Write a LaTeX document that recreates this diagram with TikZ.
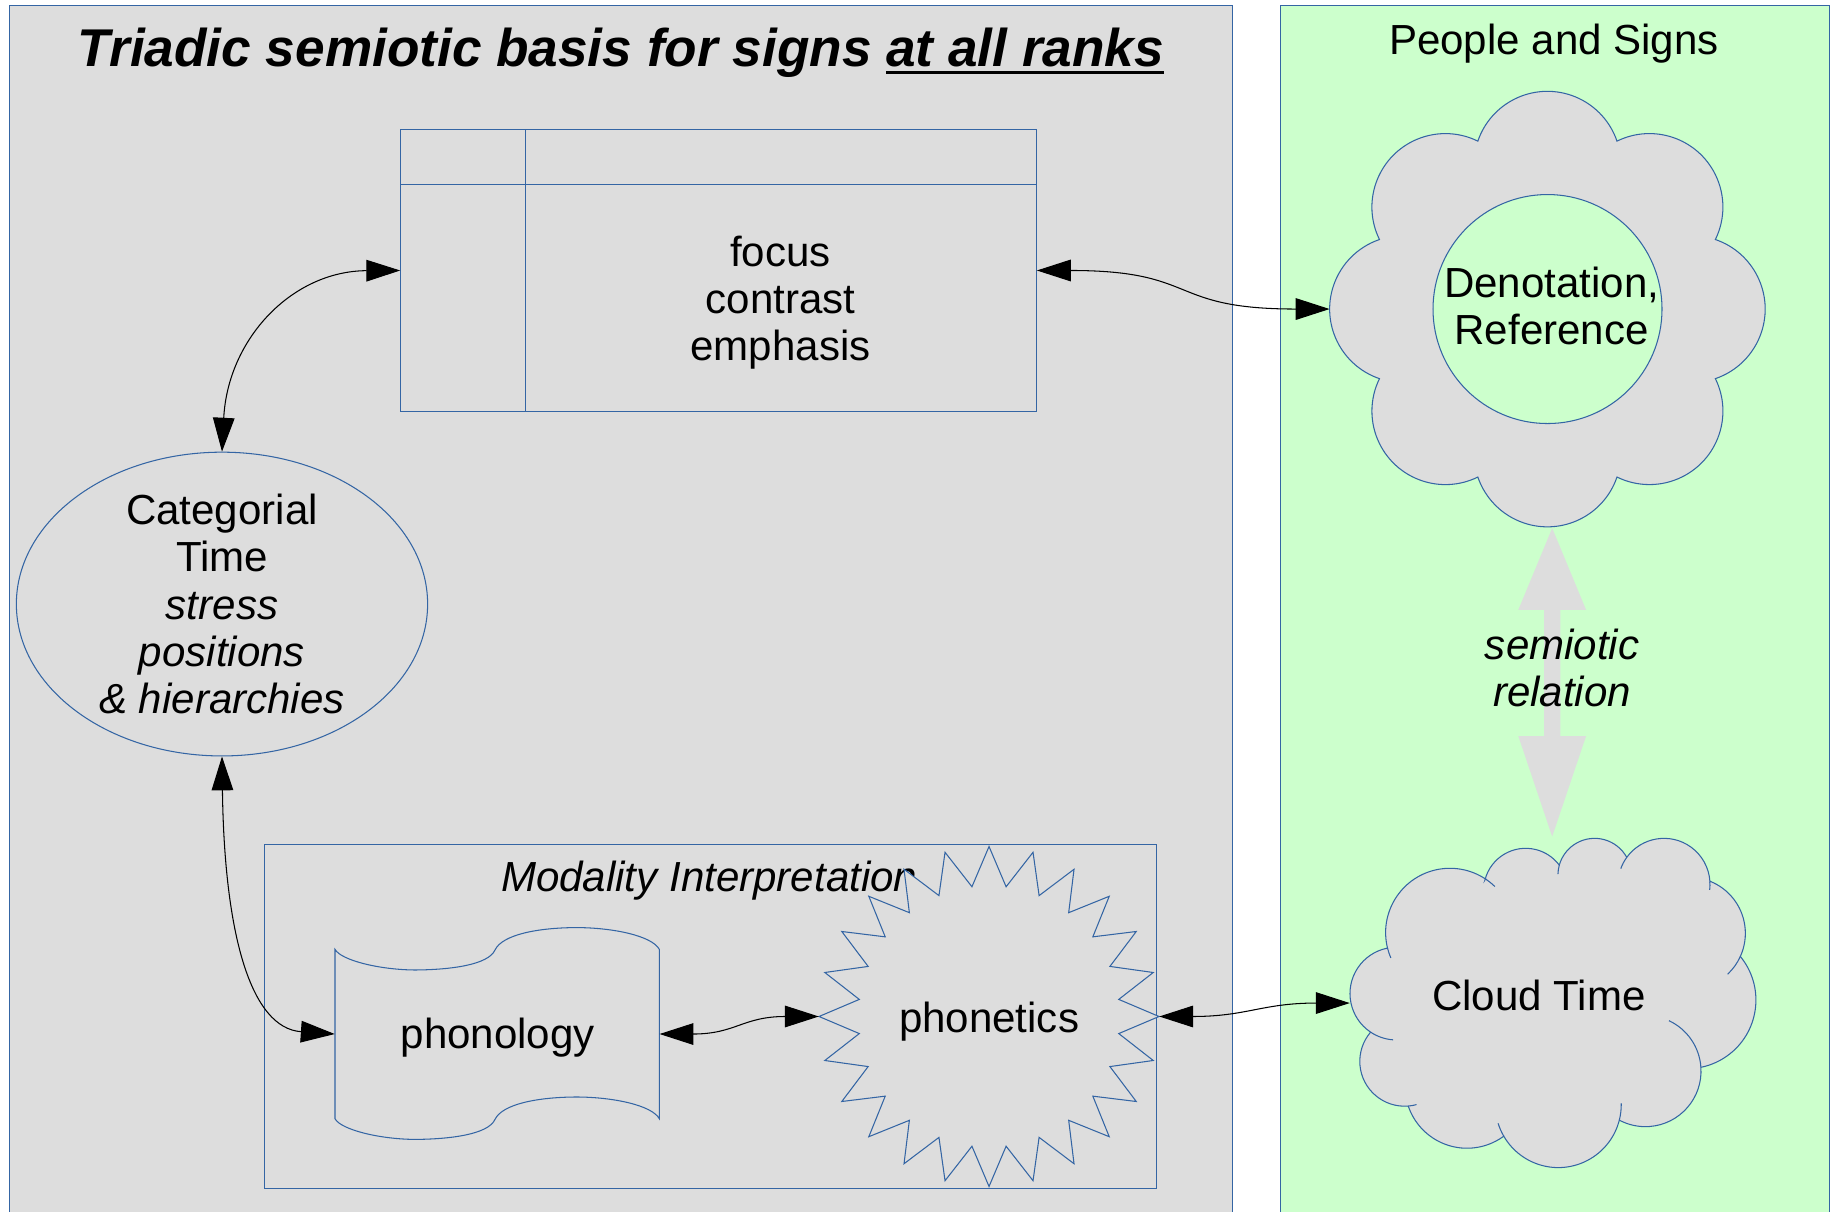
\documentclass[tikz,border=0pt]{standalone}
\usepackage{fontspec}
\setmainfont{Liberation Sans}
\usetikzlibrary{arrows.meta,calc,shapes.geometric}
\definecolor{lgray}{HTML}{DDDDDD}
\definecolor{lgreen}{HTML}{CCFFCC}
\definecolor{lblue}{HTML}{3465A4}
\newcommand\ulbox[1]{\setbox0=\hbox{#1}\rlap{\rule[-6.5pt]{\wd0}{2.5pt}}\box0}
\begin{document}
\begin{tikzpicture}[x=1pt,y=-1pt,
  outline/.style={draw=lblue, line width=0.9pt},
  conn/.style={draw=black, line width=0.9pt, >={Triangle[length=29pt,width=18.5pt]}, <->},
  txt/.style={font=\fontsize{36}{40.5}\selectfont, align=center, inner sep=0pt},
  itxt/.style={font=\fontsize{36}{40.5}\selectfont\itshape, align=center, inner sep=0pt},
]
\useasboundingbox[fill=white] (0,0) rectangle (1568,1037);

% panels
\path[outline, fill=lgray] (8,5) rectangle (1055,1050);
\path[outline, fill=lgreen] (1096,5) rectangle (1566,1050);

% titles
\node[anchor=base, inner sep=0pt, font=\fontsize{45.5}{50}\selectfont\bfseries\itshape] (title) at (531.5,57) {Triadic semiotic basis for signs \ulbox{at all ranks}};
\node[txt] (people) at (1330,37) {People and Signs};

% focus box
\node[outline, fill=lgray, minimum width=544pt, minimum height=241pt, inner sep=0pt] (fbox) at (615,231.5) {};
\draw[outline] (343,158) -- (887,158);
\draw[outline] (450,111) -- (450,352);
\node[txt] (ftext) at (668,259) {focus\\contrast\\emphasis};

% categorial ellipse
\node[ellipse, outline, minimum width=352pt, minimum height=260pt, inner sep=0pt] (cat) at (190,517) {};
\node[txt] (cattext) at (190,517) {Categorial\\Time\\\textit{stress}\\\textit{positions}\\\textit{\& hierarchies}};

% modality box
\node[outline, minimum width=764pt, minimum height=294pt, inner sep=0pt] (modal) at (608,870) {};
\node[itxt] (modlabel) at (607,754) {Modality Interpretation};

% phonology (punched tape)
\path[outline, fill=lgray] (286.7,812.5) .. controls (292,822) and (325,830) .. (355.2,830.2)
  .. controls (385,830) and (418,826) .. (423.7,813)
  .. controls (430,800) and (460,794) .. (493.6,793.9)
  .. controls (525,794) and (558,801) .. (564.3,812.5)
  -- (564.3,957.5)
  .. controls (558,946) and (525,939) .. (493.6,938.9)
  .. controls (460,939) and (430,945) .. (423.7,958)
  .. controls (418,971) and (385,975) .. (355.2,975.2)
  .. controls (325,975) and (292,967) .. (286.7,957.5) -- cycle;
\node[minimum width=277.6pt, minimum height=145pt, inner sep=0pt] (phon) at (425.5,885) {};
\node[txt] (phontext) at (426,888) {phonology};

% phonetics (starburst)
\path[outline, fill=lgray] plot[samples at={0,7.5,...,352.5}] ({846.5+(128.75+16.75*cos(24*\x))*cos(\x)}, {870+(128.75+16.75*cos(24*\x))*sin(\x)}) -- cycle;
\node[circle, minimum size=291pt, inner sep=0pt] (phonet) at (846.5,870) {};
\node[txt] (phonettext) at (846.5,874) {phonetics};

% semiotic relation block arrow
\path[fill=lgray] (1328.5,452) -- (1357.5,522) -- (1335.5,522) -- (1335.5,630) -- (1357.5,630) -- (1328.5,716) -- (1299.5,630) -- (1321.5,630) -- (1321.5,522) -- (1299.5,522) -- cycle;

% flower
\node[circle, minimum size=372.6pt, inner sep=0pt] (flower) at (1324.5,264.5) {};
\path[outline, fill=lgray] ($(flower.center)+(-22.5:155.5)$)
  arc[start angle=-71.2, end angle=71.2, radius=62.9]
  arc[start angle=-26.2, end angle=116.2, radius=62.9]
  arc[start angle=18.8, end angle=161.2, radius=62.9]
  arc[start angle=63.8, end angle=206.2, radius=62.9]
  arc[start angle=108.8, end angle=251.2, radius=62.9]
  arc[start angle=153.8, end angle=296.2, radius=62.9]
  arc[start angle=198.8, end angle=341.2, radius=62.9]
  arc[start angle=243.8, end angle=386.2, radius=62.9] -- cycle;
\node[circle, outline, fill=lgreen, minimum size=196pt, inner sep=0pt] (den) at (1324.5,264.5) {};
\node[txt] (dentext) at (1328,262) {Denotation,\\Reference};

\node[itxt] (semtext) at (1337,571.5) {semiotic\\relation};

% cloud
\node[ellipse, minimum width=347.5pt, minimum height=282pt, inner sep=0pt] (cloud) at (1329.2,858.5) {};
\path[outline, fill=lgray] ($(1241.0,798.2)+(166.1:55.06)$) arc[start angle=166.1, end angle=303.6, radius=55.06]
 -- ($(1305.8,762.0)+(194.3:35.95)$) arc[start angle=194.3, end angle=323.0, radius=35.95]
 -- ($(1364.8,748.9)+(195.8:31.38)$) arc[start angle=195.8, end angle=331.1, radius=31.38]
 -- ($(1424.2,756.9)+(215.9:39.37)$) arc[start angle=215.9, end angle=356.7, radius=39.37]
 -- ($(1445.9,798.8)+(-68.2:47.93)$) arc[start angle=-68.2, end angle=24.4, radius=47.93]
 -- ($(1444.1,855.9)+(-39.1:58.77)$) arc[start angle=-39.1, end angle=78.5, radius=58.77]
 -- ($(1408.3,916.7)+(-3.9:47.59)$) arc[start angle=-3.9, end angle=118.5, radius=47.59]
 -- ($(1333.7,945.4)+(14.2:53.92)$) arc[start angle=14.2, end angle=149.8, radius=53.92]
 -- ($(1255.6,929.7)+(54.2:53.06)$) arc[start angle=54.2, end angle=161.5, radius=53.06]
 -- ($(1202.2,908.4)+(85.3:38.37)$) arc[start angle=85.3, end angle=220.5, radius=38.37]
 -- ($(1195.1,850.4)+(123.6:39.66)$) arc[start angle=123.6, end angle=258.0, radius=39.66]
 -- cycle;
% inner stubs of the cloud outline
\draw[outline] ($(1241.0,798.2)+(303.6:55.06)$) arc[start angle=303.6, end angle=314.3, radius=55.06];
\draw[outline] ($(1241.0,798.2)+(156.8:55.06)$) arc[start angle=156.8, end angle=166.1, radius=55.06];
\draw[outline] ($(1364.8,748.9)+(181.5:31.38)$) arc[start angle=181.5, end angle=195.8, radius=31.38];
\draw[outline] ($(1424.2,756.9)+(200:39.37)$) arc[start angle=200, end angle=215.9, radius=39.37];
\draw[outline] ($(1424.2,756.9)+(356.7:39.37)$) arc[start angle=356.7, end angle=366.9, radius=39.37];
\draw[outline] ($(1445.9,798.8)+(24.4:47.93)$) arc[start angle=24.4, end angle=46.9, radius=47.93];
\draw[outline] ($(1408.3,916.7)+(-65:47.59)$) arc[start angle=-65, end angle=-3.9, radius=47.59];
\draw[outline] ($(1333.7,945.4)+(-1.2:53.92)$) arc[start angle=-1.2, end angle=14.2, radius=53.92];
\draw[outline] ($(1333.7,945.4)+(149.8:53.92)$) arc[start angle=149.8, end angle=162.7, radius=53.92];
\draw[outline] ($(1202.2,908.4)+(74.6:38.37)$) arc[start angle=74.6, end angle=85.3, radius=38.37];
\draw[outline] ($(1195.1,850.4)+(93.9:39.66)$) arc[start angle=93.9, end angle=123.6, radius=39.66];
\node[txt] (cloudtext) at (1317,852) {Cloud Time};

% connectors
\draw[conn] (cat.north) .. controls (195,290) and (250,232) .. (fbox.west);
\draw[conn] (fbox.east) .. controls +(140,0) and +(-140,0) .. (flower.west);
\draw[conn] (cat.south) .. controls +(2,152) and +(-72,-5) .. (phon.west);
\draw[conn] (phon.east) .. controls +(65,0) and +(-65,0) .. (phonet.west);
\draw[conn] (phonet.east) .. controls +(75,0) and +(-75,0) .. (cloud.west);
\end{tikzpicture}
\end{document}
